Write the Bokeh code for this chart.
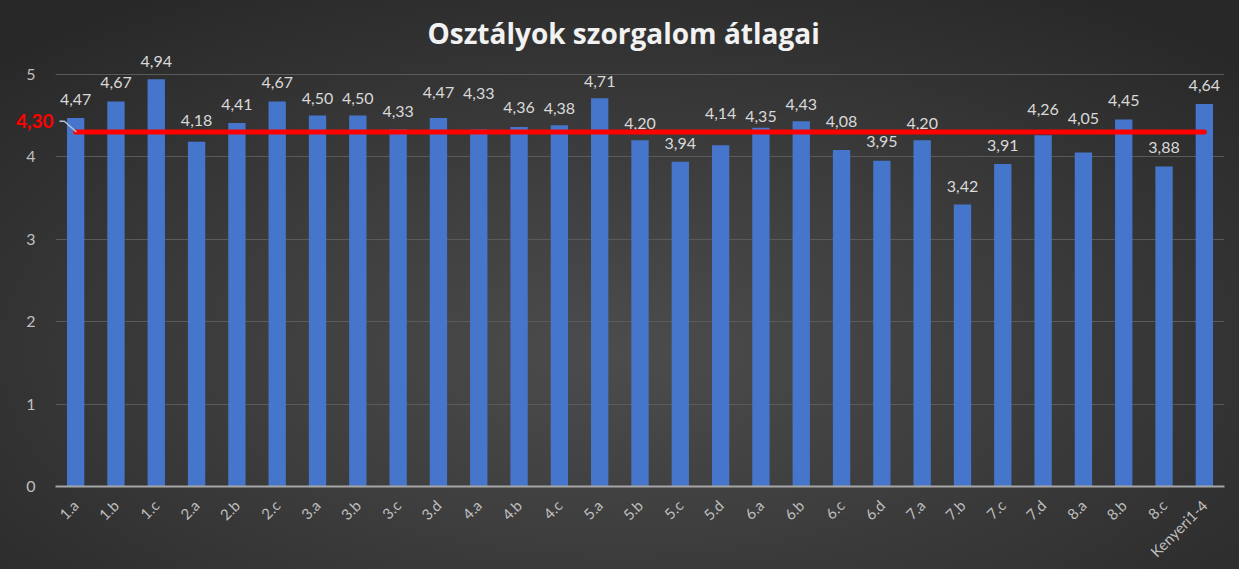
import math
from bokeh.plotting import figure
from bokeh.models import FactorRange, Range1d, FixedTicker, LinearAxis, ColumnDataSource
from bokeh.core.properties import value
from bokeh.embed import file_html
from bokeh.resources import INLINE

classes = ["1.a", "1.b", "1.c", "2.a", "2.b", "2.c", "3.a", "3.b", "3.c", "3.d",
           "4.a", "4.b", "4.c", "5.a", "5.b", "5.c", "5.d", "6.a", "6.b", "6.c",
           "6.d", "7.a", "7.b", "7.c", "7.d", "8.a", "8.b", "8.c", "Kenyeri1-4"]
averages = [4.47, 4.67, 4.94, 4.18, 4.41, 4.67, 4.50, 4.50, 4.33, 4.47,
            4.33, 4.36, 4.38, 4.71, 4.20, 3.94, 4.14, 4.35, 4.43, 4.08,
            3.95, 4.20, 3.42, 3.91, 4.26, 4.05, 4.45, 3.88, 4.64]
overall_mean = 4.30
y_ticks = [0, 1, 2, 3, 4, 5]
title_text = "Osztályok szorgalom átlagai"

# layout: how far (px) each value label sits above its bar (labels are lifted off the mean line)
label_lift = [18, 19, 18, 21, 18, 19, 17, 17, 18, 25,
              36, 20, 17, 17, 17, 18, 32, 11, 17, 29,
              19, 17, 18, 19, 26, 34, 19, 19, 18]

def hu(v):
    return f"{v:.2f}".replace(".", ",")

src = ColumnDataSource(dict(cls=classes, avg=averages,
                            lbl=[hu(v) for v in averages],
                            off=[-d for d in label_lift],
                            mean=[overall_mean] * len(classes)))

FONT = "Lato"
p = figure(x_range=FactorRange(factors=classes), y_range=Range1d(0, 5.30),
           width=1239, height=569, output_backend="svg", toolbar_location=None,
           min_border_left=55, min_border_right=15, min_border_top=49, min_border_bottom=80)
p.styles = {"background": "radial-gradient(ellipse 70% 75% at 50% 62%, #4c4c4c 0%, #3d3d3d 45%, #282828 100%)"}
p.background_fill_alpha = 0
p.border_fill_alpha = 0
p.outline_line_color = None

p.title.text = title_text
p.title.align = "left"
p.title.offset = 372
p.title.text_font = "Open Sans"
p.title.text_font_style = "bold"
p.title.text_font_size = "28px"
p.title.text_color = "#f2f2f2"
p.title.standoff = -5

p.vbar(x="cls", top="avg", width=0.43, source=src, fill_color="#4676cb", line_color=None)

p.text(x="cls", y="avg", text="lbl", source=src, text_align="center", text_baseline="middle",
       y_offset="off", text_font=value(FONT), text_font_size="16px", text_color="#d9d9d9")

p.line(x="cls", y="mean", source=src, line_color="#ff0000", line_width=5, line_cap="round")

# leader line from the mean label to the mean line
p.line(x=[0.1, 0.22, 0.52], y=[overall_mean + 0.13, overall_mean + 0.13, overall_mean],
       line_color="#b4c4dc", line_width=1.5)

p.yaxis.ticker = FixedTicker(ticks=y_ticks)
p.yaxis.axis_line_color = None
p.yaxis.major_tick_line_color = None
p.yaxis.minor_tick_line_color = None
p.yaxis.major_label_standoff = 14
p.yaxis.major_label_text_font = FONT
p.yaxis.major_label_text_font_size = "16px"
p.yaxis.major_label_text_color = "#bfbfbf"

# extra axis carrying the red mean label
mean_axis = LinearAxis(ticker=FixedTicker(ticks=[overall_mean + 0.13]),
                       major_label_overrides={overall_mean + 0.13: hu(overall_mean)},
                       axis_line_color=None, major_tick_line_color=None, minor_tick_line_color=None,
                       major_label_standoff=-36, major_label_text_font=FONT,
                       major_label_text_font_style="bold", major_label_text_font_size="19px",
                       major_label_text_color="#ff0000")
p.add_layout(mean_axis, "left")

p.xaxis.axis_line_color = "#a6a6a6"
p.xaxis.axis_line_width = 2
p.xaxis.major_tick_line_color = None
p.xaxis.minor_tick_line_color = None
p.xaxis.major_label_orientation = math.pi / 4
p.xaxis.major_label_standoff = 10
p.xaxis.major_label_text_font = FONT
p.xaxis.major_label_text_font_size = "15px"
p.xaxis.major_label_text_color = "#bfbfbf"

p.xgrid.grid_line_color = None
p.ygrid.ticker = FixedTicker(ticks=y_ticks)
p.ygrid.grid_line_color = "#5a5a5a"
p.ygrid.grid_line_width = 1

open("out.html", "w").write(file_html(p, INLINE))
